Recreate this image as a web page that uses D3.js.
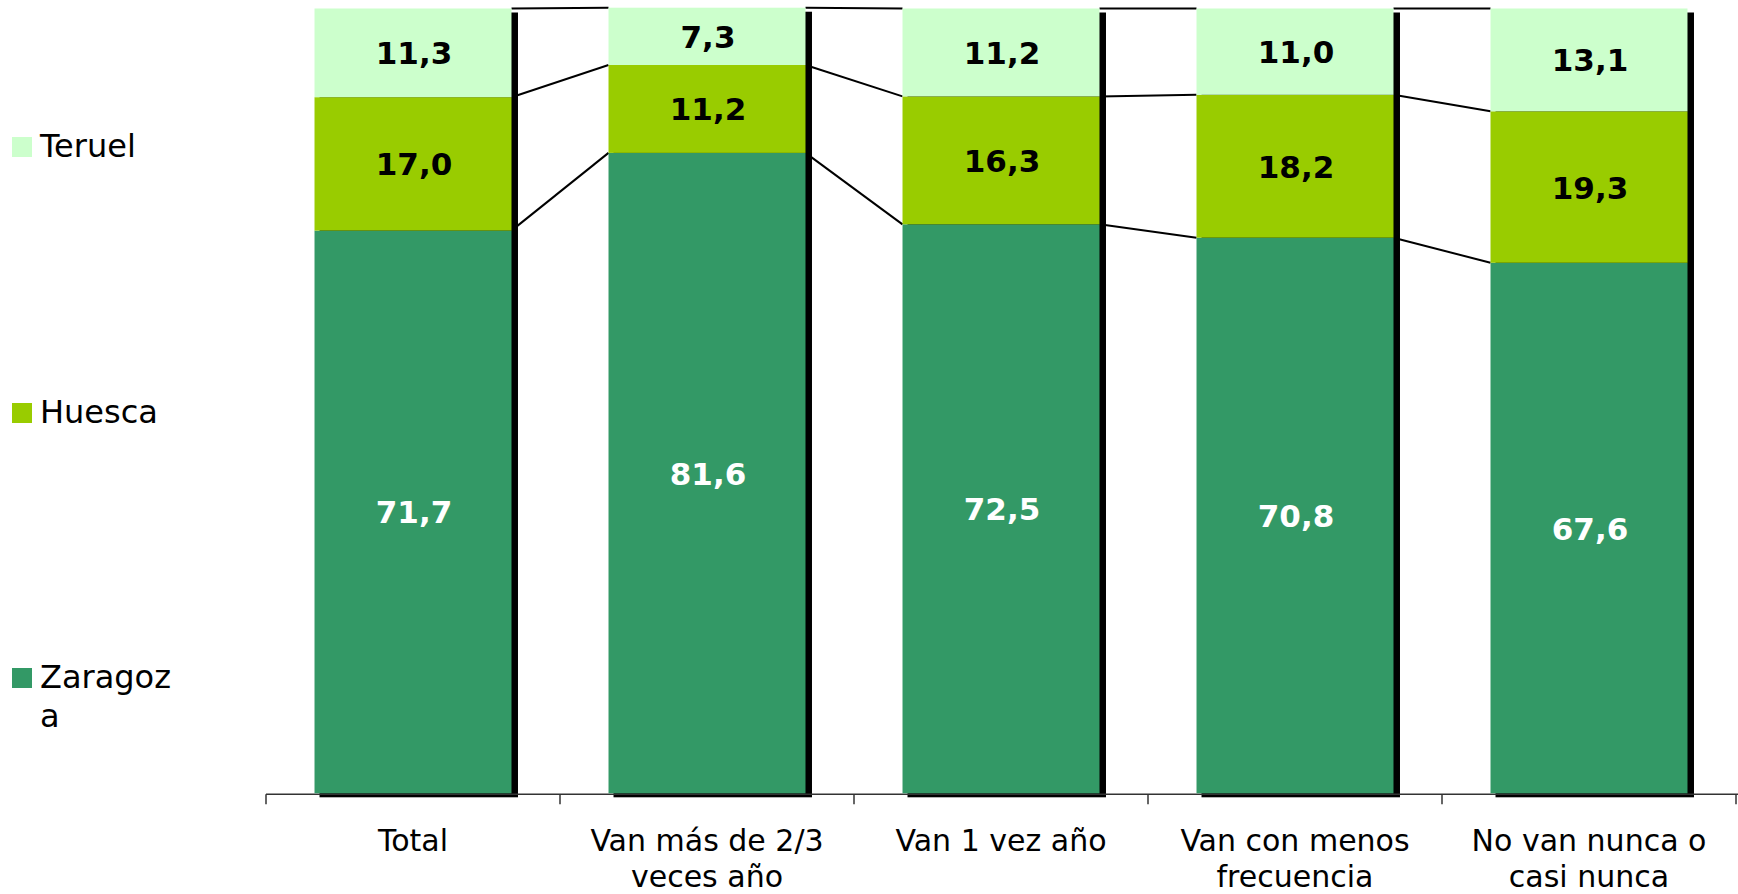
<!DOCTYPE html>
<html>
<head>
<meta charset="utf-8">
<script src="https://cdn.jsdelivr.net/npm/d3@7"></script>
<style>
    body { margin: 0; background: #fff; }
    svg { display: block; font-family: "DejaVu Sans", Verdana, sans-serif; }
</style>
</head>
<body>
<div id="graphDiv"></div>
<script>
const categories = [
    ["Total"],
    ["Van más de 2/3", "veces año"],
    ["Van 1 vez año"],
    ["Van con menos", "frecuencia"],
    ["No van nunca o", "casi nunca"]
]
const seriesNames = ["Zaragoza", "Huesca", "Teruel"]
const zaragoza = [71.7, 81.6, 72.5, 70.8, 67.6]
const huesca = [17.0, 11.2, 16.3, 18.2, 19.3]
const teruel = [11.3, 7.3, 11.2, 11.0, 13.1]

const colors = ["#339966", "#99CC00", "#CCFFCC"]
const labelColors = ["#fff", "#000", "#000"]
const legendLines = [["Zaragoz", "a"], ["Huesca"], ["Teruel"]]

const width = 1738
const height = 894
const margin = { left: 266, top: 8.5, bottom: 793.3 }

const drawGraph = () => {
    const rows = categories.map((c, i) => ({
        key: i,
        Zaragoza: zaragoza[i],
        Huesca: huesca[i],
        Teruel: teruel[i]
    }))
    const stacked = d3.stack().keys(seriesNames)(rows)

    const xScale = d3.scaleBand()
        .domain(d3.range(categories.length))
        .range([margin.left, margin.left + 294 * categories.length])
        .paddingInner(0.33)
        .paddingOuter(0.165)

    const yScale = d3.scaleLinear()
        .domain([0, 100])
        .range([margin.bottom, margin.top])

    const svg = d3.select("#graphDiv")
        .append("svg")
        .attr("width", width)
        .attr("height", height)

    // series lines between bars
    const lineLevels = stacked.map(s => s.map(d => d[1]))
    lineLevels.forEach(level => {
        for (let i = 0; i < level.length - 1; i++) {
            svg.append("line")
                .attr("x1", xScale(i) + xScale.bandwidth())
                .attr("y1", yScale(level[i]))
                .attr("x2", xScale(i + 1))
                .attr("y2", yScale(level[i + 1]))
                .attr("stroke", "#000")
                .attr("stroke-width", 2)
        }
    })

    // shadows
    svg.append("g")
        .selectAll("rect")
        .data(rows)
        .enter()
        .append("rect")
        .attr("x", d => xScale(d.key) + 5)
        .attr("y", (d, i) => yScale(stacked[2][i][1]) + 4)
        .attr("width", xScale.bandwidth() + 1.5)
        .attr("height", (d, i) => yScale(0) - yScale(stacked[2][i][1]))
        .attr("fill", "#000")

    // axis
    const bottomAxis = d3.axisBottom(xScale)
        .tickSize(0)
        .tickFormat("")
    const axisGroup = svg.append("g")
        .attr("transform", `translate(0,${margin.bottom + 1})`)
        .call(bottomAxis)
    axisGroup.select(".domain").remove()
    axisGroup.append("line")
        .attr("x1", margin.left)
        .attr("x2", width)
        .attr("stroke", "#333")
        .attr("stroke-width", 1.5)
    axisGroup.selectAll(".sep")
        .data(d3.range(categories.length + 1))
        .enter()
        .append("line")
        .attr("x1", i => margin.left + i * xScale.step())
        .attr("x2", i => margin.left + i * xScale.step())
        .attr("y1", 0)
        .attr("y2", 10)
        .attr("stroke", "#333")
        .attr("stroke-width", 1.5)

    // bars
    stacked.forEach((series, si) => {
        const g = svg.append("g")
        g.selectAll("rect")
            .data(series)
            .enter()
            .append("rect")
            .attr("x", d => xScale(d.data.key))
            .attr("y", d => yScale(d[1]))
            .attr("width", xScale.bandwidth())
            .attr("height", d => yScale(d[0]) - yScale(d[1]))
            .attr("fill", colors[si])

        g.selectAll("text")
            .data(series)
            .enter()
            .append("text")
            .attr("x", d => xScale(d.data.key) + xScale.bandwidth() / 2 + 1)
            .attr("y", d => (yScale(d[0]) + yScale(d[1])) / 2 + 11.5)
            .attr("text-anchor", "middle")
            .attr("font-size", 31)
            .attr("font-weight", "bold")
            .attr("fill", labelColors[si])
            .text(d => (d[1] - d[0]).toFixed(1).replace(".", ","))
    })

    // category labels
    categories.forEach((lines, i) => {
        const t = svg.append("text")
            .attr("x", xScale(i) + xScale.bandwidth() / 2)
            .attr("y", 851)
            .attr("text-anchor", "middle")
            .attr("font-size", 30)
            .attr("fill", "#000")
        lines.forEach((l, j) => {
            t.append("tspan")
                .attr("x", xScale(i) + xScale.bandwidth() / 2)
                .attr("dy", j === 0 ? 0 : 36)
                .text(l)
        })
    })

    // legend
    const legendY = [688, 423, 157]
    seriesNames.forEach((name, si) => {
        svg.append("rect")
            .attr("x", 12)
            .attr("y", legendY[si] - 20)
            .attr("width", 20)
            .attr("height", 20)
            .attr("fill", colors[si])
        const t = svg.append("text")
            .attr("x", 40)
            .attr("y", legendY[si])
            .attr("font-size", 32)
            .attr("fill", "#000")
        legendLines[si].forEach((l, j) => {
            t.append("tspan")
                .attr("x", 40)
                .attr("dy", j === 0 ? 0 : 39)
                .text(l)
        })
    })
}

drawGraph()
</script>
</body>
</html>
